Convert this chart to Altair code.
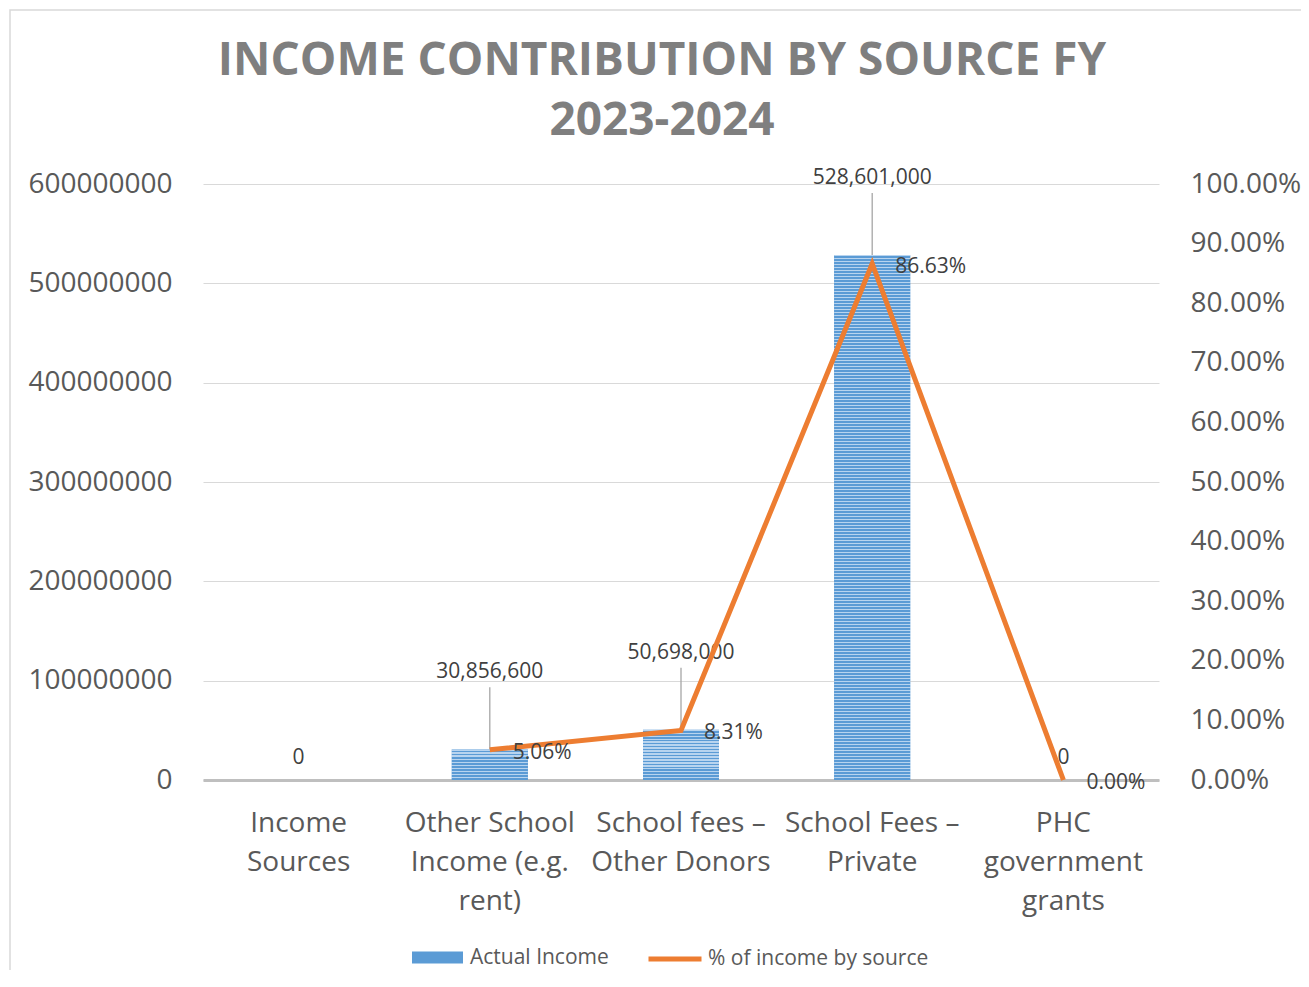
import altair as alt
import pandas as pd

categories = [
    "Income Sources",
    "Other School Income (e.g. rent)",
    "School fees – Other Donors",
    "School Fees – Private",
    "PHC government grants",
]
label_lines = [
    ["Income", "Sources"],
    ["Other School", "Income (e.g.", "rent)"],
    ["School fees –", "Other Donors"],
    ["School Fees –", "Private"],
    ["PHC", "government", "grants"],
]
actual_income = [0, 30856600, 50698000, 528601000, 0]
pct_income = [None, 0.0506, 0.0831, 0.8663, 0.0]
series_names = ["Actual Income", "% of income by source"]

left_ticks = [0, 100000000, 200000000, 300000000, 400000000, 500000000, 600000000]
right_ticks = [0.0, 0.1, 0.2, 0.3, 0.4, 0.5, 0.6, 0.7, 0.8, 0.9, 1.0]

df = pd.DataFrame({"category": categories, "actual": actual_income, "pct": pct_income})
df["bar_series"] = series_names[0]
df["line_series"] = series_names[1]

FONT = "Open Sans"
PLOT_W, PLOT_H = 956, 596
LEFT_MAX = 600000000
BAR_W = 76
BLUE = "#5b9bd5"
LIGHT = "#b8d4ef"
ORANGE = "#ed7d31"
AXIS_TXT = "#595959"
LBL_TXT = "#404040"


def js_list(lines):
    return "[" + ",".join("'" + s + "'" for s in lines) + "]"


label_expr = ""
for c, lines in zip(categories, label_lines):
    label_expr += "datum.value == '" + c + "' ? " + js_list(lines) + " : "
label_expr += "datum.value"


def stripe_gradient(h_px, period=3.0):
    n = max(1, int(round(h_px / period)))
    stops = []
    for i in range(n):
        a = i / n
        b = (i + 0.45) / n
        c = (i + 1) / n
        stops += [
            {"offset": a, "color": LIGHT},
            {"offset": b, "color": LIGHT},
            {"offset": b, "color": BLUE},
            {"offset": c, "color": BLUE},
        ]
    return {"gradient": "linear", "x1": 0, "y1": 0, "x2": 0, "y2": 1, "stops": stops}


x_enc = alt.X(
    "category:N",
    sort=categories,
    scale=alt.Scale(domain=categories, paddingInner=0, paddingOuter=0),
    axis=alt.Axis(
        title=None,
        labelExpr=label_expr,
        labelFont=FONT,
        labelFontSize=28,
        labelColor=AXIS_TXT,
        labelLineHeight=39,
        labelPadding=29,
        labelLimit=400,
        labelAngle=0,
        ticks=False,
        domainColor="#bfbfbf",
        domainWidth=3,
        grid=False,
    ),
)

y_left = alt.Y(
    "actual:Q",
    scale=alt.Scale(domain=[0, LEFT_MAX], nice=False),
    axis=alt.Axis(
        title=None,
        orient="left",
        values=left_ticks,
        format="d",
        labelFont=FONT,
        labelFontSize=28,
        labelColor=AXIS_TXT,
        labelPadding=31,
        ticks=False,
        domain=False,
        grid=True,
        gridColor="#d9d9d9",
        gridWidth=1,
    ),
)

y_right = alt.Y(
    "pct:Q",
    scale=alt.Scale(domain=[0, 1], nice=False),
    axis=alt.Axis(
        title=None,
        orient="right",
        values=right_ticks,
        format=".2%",
        labelFont=FONT,
        labelFontSize=28,
        labelColor=AXIS_TXT,
        labelAlign="left",
        labelPadding=31,
        ticks=False,
        domain=False,
        grid=False,
    ),
)

base = alt.Chart(df)

border = alt.Chart(pd.DataFrame({"k": [0]})).mark_rect(
    fillOpacity=0, stroke="#d9d9d9", strokeWidth=1.5
).encode(
    x=alt.value(-193), x2=alt.value(1200), y=alt.value(-174), y2=alt.value(900)
)

bars = base.mark_bar(size=BAR_W).encode(
    x=x_enc,
    y=y_left,
    fill=alt.Fill(
        "bar_series:N",
        scale=alt.Scale(domain=[series_names[0]], range=[BLUE]),
        legend=alt.Legend(
            title=None,
            orient="none",
            legendX=209,
            legendY=748,
            padding=0,
            symbolType="M-1,-0.235H1V0.235H-1Z",
            symbolSize=2601,
            symbolStrokeWidth=0,
            labelFont=FONT,
            labelFontSize=21,
            labelColor=AXIS_TXT,
            labelOffset=7,
            labelLimit=400,
        ),
    ),
)

stripe_layers = []
for c, v in zip(categories, actual_income):
    if v > 0:
        h = v / LEFT_MAX * PLOT_H
        stripe_layers.append(
            base.transform_filter(alt.datum.category == c)
            .mark_bar(size=BAR_W, fill=stripe_gradient(h))
            .encode(x=x_enc, y=y_left)
        )

leaders = base.transform_filter("datum.actual > 0").mark_rule(
    color="#a6a6a6", strokeWidth=1.3, y2Offset=-62
).encode(x=x_enc, y=y_left, y2="actual:Q")

val_labels = base.transform_filter("datum.actual > 0").mark_text(
    font=FONT, fontSize=21, color=LBL_TXT, baseline="middle", dy=-77
).encode(x=x_enc, y=y_left, text=alt.Text("actual:Q", format=",d"))

zero_labels = base.transform_filter("datum.actual == 0").mark_text(
    font=FONT, fontSize=21, color=LBL_TXT, baseline="middle", dy=-22
).encode(x=x_enc, y=y_left, text=alt.Text("actual:Q", format=",d"))

left_layer = alt.layer(border, bars, *stripe_layers, leaders, val_labels, zero_labels)

line = base.mark_line(strokeWidth=5, strokeJoin="miter", strokeCap="butt").encode(
    x=x_enc,
    y=y_right,
    stroke=alt.Stroke(
        "line_series:N",
        scale=alt.Scale(domain=[series_names[1]], range=[ORANGE]),
        legend=alt.Legend(
            title=None,
            orient="none",
            legendX=443,
            legendY=746,
            padding=0,
            symbolType="stroke",
            symbolSize=2809,
            symbolStrokeWidth=5,
            labelFont=FONT,
            labelFontSize=21,
            labelColor=AXIS_TXT,
            labelOffset=4,
            labelLimit=400,
        ),
    ),
)

pct_labels = base.mark_text(
    font=FONT, fontSize=21, color=LBL_TXT, align="left", baseline="middle", dx=23, dy=3
).encode(x=x_enc, y=y_right, text=alt.Text("pct:Q", format=".2%"))

right_layer = alt.layer(line, pct_labels)

chart = (
    alt.layer(left_layer, right_layer)
    .resolve_scale(y="independent", fill="independent", stroke="independent")
    .properties(
        width=PLOT_W,
        height=PLOT_H,
        autosize=alt.AutoSizeParams(type="none"),
        padding={"left": 195, "top": 176, "right": 142, "bottom": 190},
        title=alt.Title(
            ["INCOME CONTRIBUTION BY SOURCE FY", "2023-2024"],
            font=FONT,
            fontSize=46,
            fontWeight="bold",
            color="#7f7f7f",
            lineHeight=60,
            anchor="middle",
            dx=-19,
            offset=-136,
        ),
    )
    .configure_view(stroke=None)
)

chart.save("out.html", embed_options={"renderer": "svg", "actions": False})
